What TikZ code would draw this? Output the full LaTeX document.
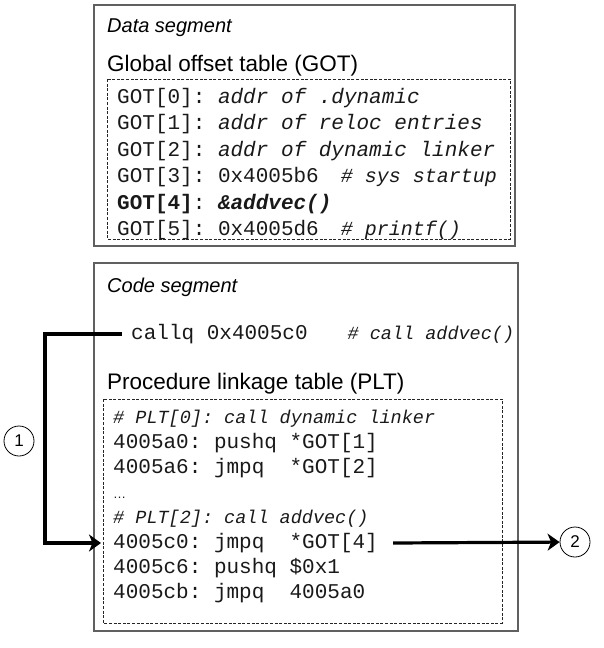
\documentclass[tikz,border=0pt]{standalone}
\usepackage{fontspec}
\setmainfont{Liberation Sans}
\setsansfont{Liberation Sans}
\setmonofont{Liberation Mono}
\usepackage{tikz}
\usetikzlibrary{arrows.meta}
\newcommand{\cmtfont}{\fontsize{18.5}{22}\selectfont\itshape}
\newcommand{\gotcmtfont}{\fontsize{20}{22}\selectfont\itshape}
\tikzset{% 
  segment box/.style={%
    draw=gray!75!black,
    line width=1.3pt
  }
}
\tikzset{% 
  table box/.style={%
    draw=black!85,
    dash pattern=on 3pt off 1.6pt,
    line width=0.9pt
  }
}
\tikzset{% 
  heading/.style={%
    anchor=west,
    inner sep=0pt,
    text height=14pt,
    text depth=4pt,
    font=\fontsize{20}{24}\selectfont\itshape
  }
}
\tikzset{% 
  table title/.style={%
    anchor=west,
    inner sep=0pt,
    text height=16pt,
    text depth=5pt,
    font=\fontsize{22.5}{27}\selectfont
  }
}
\tikzset{% 
  asm line/.style={%
    anchor=west,
    inner sep=0pt,
    text height=14pt,
    text depth=4pt,
    text=black!90,
    font=\fontsize{21}{24}\ttfamily
  }
}
\tikzset{% 
  badge/.style={%
    draw,
    circle,
    line width=0.8pt,
    minimum size=30pt,
    inner sep=0pt,
    font=\fontsize{17}{20}\selectfont
  }
}
\tikzset{% 
  jump/.style={%
    line width=3.2pt,
    -{Stealth[length=12pt,width=17pt,inset=3.5pt]}
  }
}

\begin{document}
\begin{tikzpicture}[x=1pt,y=-1pt]
  \useasboundingbox (0,0) rectangle (603,648);
  % data segment
  \draw [segment box] (94,5) rectangle (515,246);
  \draw [table box] (107,79) rectangle (510,239);
  \node [heading] (dseg) at (107,27) {Data segment};
  \node [table title] (got) at (107,66) {Global offset table (GOT)};
  \node [asm line] (g0) at (117,98) {GOT[0]: \textit{addr of .dynamic}};
  \node [asm line] (g1) at (117,124.5) {GOT[1]: \textit{addr of reloc entries}};
  \node [asm line] (g2) at (117,151) {GOT[2]: \textit{addr of dynamic linker}};
  \node [asm line] (g3) at (117,177.5) {GOT[3]: 0x4005b6\hspace{22pt}{\gotcmtfont \# sys startup}};
  \node [asm line] (g4) at (117,204) {\textbf{GOT[4]}: \textbf{\textit{\&addvec()}}};
  \node [asm line] (g5) at (117,230.5) {GOT[5]: 0x4005d6\hspace{22pt}{\gotcmtfont \# printf()}};
  % code segment
  \draw [segment box] (94,263) rectangle (518,631);
  \draw [table box] (103,399) rectangle (502,623);
  \node [heading] (cseg) at (107,287) {Code segment};
  \node [asm line] (call) at (131,334) {callq 0x4005c0\hspace{40pt}{\cmtfont \# call addvec()}};
  \node [table title] (plt) at (107,384) {Procedure linkage table (PLT)};
  \node [asm line] (p0) at (113,418) {{\cmtfont \# PLT[0]: call dynamic linker}};
  \node [asm line] (p1) at (113,443) {4005a0: pushq *GOT[1]};
  \node [asm line] (p2) at (113,468) {4005a6: jmpq\ \ *GOT[2]};
  \node [asm line, font=\fontsize{13}{16}\selectfont] (p3) at (113,493) {…};
  \node [asm line] (p4) at (113,518) {{\cmtfont \# PLT[2]: call addvec()}};
  \node [asm line] (p5) at (113,543) {4005c0: jmpq\ \ *GOT[4]};
  \node [asm line] (p6) at (113,568) {4005c6: pushq \$0x1};
  \node [asm line] (p7) at (113,593) {4005cb: jmpq\ \ 4005a0};
  % steps
  \node [badge] (one) at (19,441) {1};
  \node [badge] (two) at (575,542) {2};
  \coordinate (corner) at (45,334);
  \draw [jump] ([xshift=-9pt]call.west) -- (corner) |- ([xshift=-12pt]p5.west);
  \draw [jump] ([xshift=15pt]p5.east) -- (two);
\end{tikzpicture}
\end{document}
